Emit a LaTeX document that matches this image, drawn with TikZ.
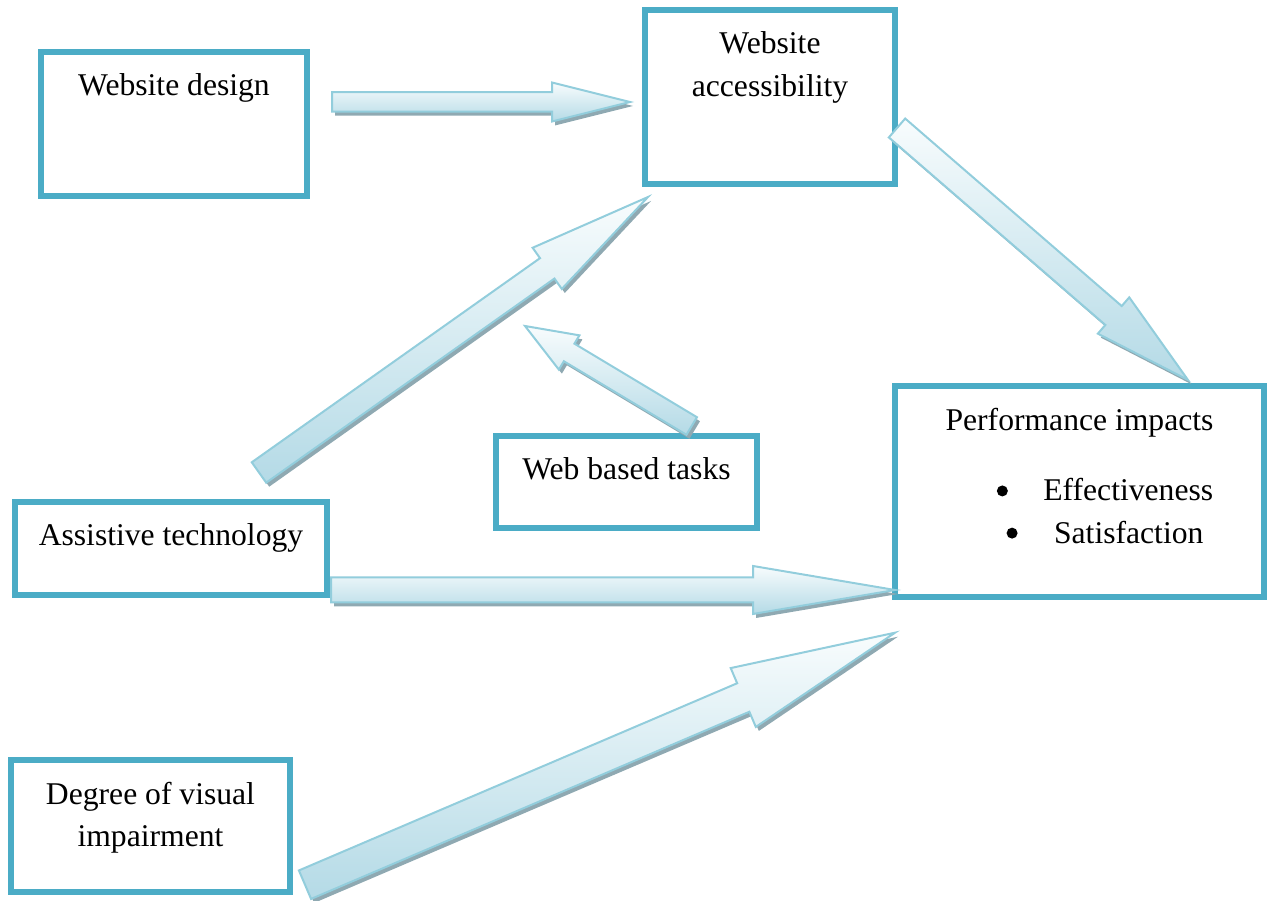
\documentclass[tikz,border=0pt]{standalone}
\usepackage{fontspec}
\setmainfont{Liberation Serif}
\usepackage{tikz}
\usepackage{xcolor}
\usetikzlibrary{calc}
\definecolor{cBord}{HTML}{4BACC6}
\definecolor{cArLine}{HTML}{92CDDC}
\definecolor{cArTop}{HTML}{F8FCFD}
\definecolor{cArBot}{HTML}{B4DAE6}
\definecolor{cShade}{HTML}{8FA9B2}
\tikzset{
  box/.style    ={draw=cBord,line width=1.3mm,fill=white,inner sep=0pt,
                  font=\fontsize{18}{24}\selectfont},
  arfill/.style ={top color=cArTop,bottom color=cArBot,draw=cArLine,
                  line width=0.4mm,line join=miter},
  arshade/.style={fill=cShade,transform canvas={shift={(0.6mm,-0.8mm)}}},
}
% text set at the top of a box of fixed size
\newcommand{\boxtext}[3]{\begin{minipage}[t][#2][t]{#1}\centering\vspace*{4.4mm}#3\end{minipage}}
% round list bullet
\newcommand{\bdot}{\tikz[baseline=-2mm]\fill (0,0) circle (1.1mm);}
% outline of a block arrow: tail, tip, shaft half width, head half width, head length
\newcommand{\arpath}[5]{($(#1)!#3!90:(#2)$) -- ($(hb)!#3!90:(#2)$) -- ($(hb)!#4!90:(#2)$)
  -- (#2) -- ($(hb)!#4!-90:(#2)$) -- ($(hb)!#3!-90:(#2)$) -- ($(#1)!#3!-90:(#2)$) -- cycle}
\newcommand{\blockarrow}[5]{%
  \coordinate (hb) at ($(#2)!#5!(#1)$);
  \path[arshade] \arpath{#1}{#2}{#3}{#4}{#5};
  \path[arfill] \arpath{#1}{#2}{#3}{#4}{#5};
}

\begin{document}
\begin{tikzpicture}[x=0.2mm,y=-0.2mm]
\useasboundingbox (0,0) rectangle (1270,901);

% boxes
\node[box] (dsg) at (174,124)     {\boxtext{53.2mm}{28.8mm}{Website design}};
\node[box] (acc) at (770,97)      {\boxtext{50mm}{34.8mm}{Website\\accessibility}};
\node[box] (prf) at (1079.5,491.5){\boxtext{73.8mm}{42.2mm}{Performance impacts\\[5.7mm]
  \hspace*{10.2mm}\bdot\hspace{7.1mm}Effectiveness\\
  \hspace*{10.2mm}\bdot\hspace{7.3mm}Satisfaction}};
\node[box] (tsk) at (626.5,482)   {\boxtext{52.2mm}{18.4mm}{Web based tasks}};
\node[box] (ast) at (171,548.5)   {\boxtext{62.4mm}{18.6mm}{Assistive technology}};
\node[box] (dvi) at (150.5,826)   {\boxtext{55.8mm}{26.4mm}{Degree of visual\\impairment}};

% arrow ends
\coordinate (dsg-o)  at (332,102);
\coordinate (acc-i1) at (630,102);
\coordinate (ast-o1) at (259,472.5);
\coordinate (acc-i2) at (648,197);
\coordinate (tsk-o)  at (691.7,426);
\coordinate (acc-i3) at (525,326);
\coordinate (acc-o)  at (897,128);
\coordinate (prf-i1) at (1188,380);
\coordinate (ast-o2) at (331,590);
\coordinate (prf-i2) at (895,590);
\coordinate (dvi-o)  at (305,884.7);
\coordinate (prf-i3) at (895,632.7);

% block arrows
\blockarrow{dsg-o}{acc-i1}{1.95mm}{3.9mm}{15.6mm}
\blockarrow{ast-o1}{acc-i2}{2.5mm}{5.05mm}{24.7mm}
\blockarrow{tsk-o}{acc-i3}{2.05mm}{4mm}{10.3mm}
\blockarrow{acc-o}{prf-i1}{2.5mm}{4.8mm}{19.7mm}
\blockarrow{ast-o2}{prf-i2}{2.5mm}{4.8mm}{28.4mm}
\blockarrow{dvi-o}{prf-i3}{3.1mm}{6.4mm}{33mm}
\end{tikzpicture}
\end{document}
